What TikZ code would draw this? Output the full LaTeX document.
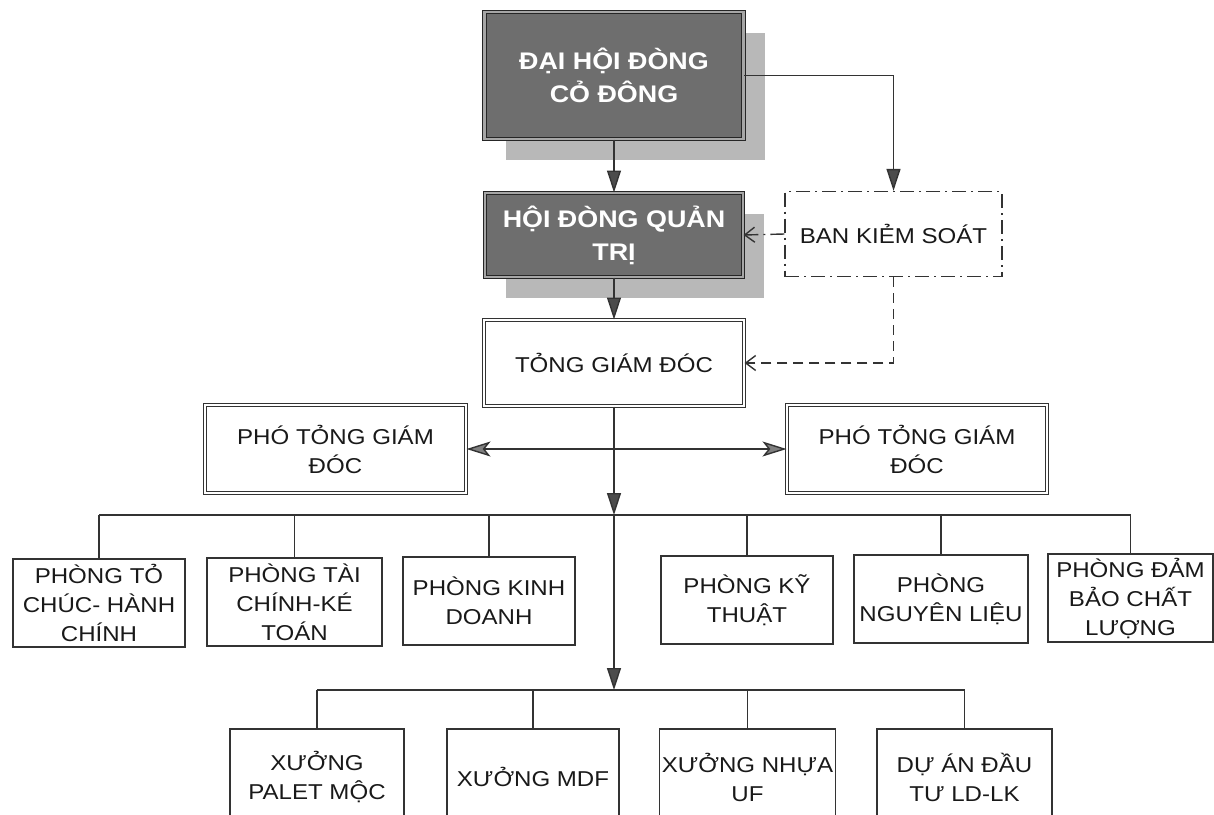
\documentclass[tikz,border=0pt]{standalone}
\usepackage{fontspec}
\newfontfamily\orgfont[FakeStretch=1.12]{Liberation Sans}
\usetikzlibrary{arrows.meta,shadows}
\tikzset{
  unit/.style={rectangle, draw=black!80, line width=1.3pt, align=center, inner sep=2pt,
               text=black!90, font=\orgfont\fontsize{21.5}{29}\selectfont},
  board/.style={unit, line width=1pt, double=white, double distance=2.6pt},
  organ/.style={rectangle, draw=black!85, line width=1pt, double=black!35, double distance=2.6pt,
                fill=black!57, align=center, text=white,
                font=\orgfont\bfseries\fontsize{24}{33}\selectfont,
                drop shadow={shadow xshift=21pt, shadow yshift=-21pt, fill=black!28, opacity=1}},
  audit/.style={unit, dash pattern=on 14pt off 5pt on 2pt off 5pt},
  link/.style={draw=black!80, line width=1.4pt},
  flow/.style={link, -{Triangle[length=22pt, width=14pt, fill=black!70]}},
  side/.style={link, {Stealth[length=24pt, width=15pt, inset=6pt, fill=black!50]}-{Stealth[length=24pt, width=15pt, inset=6pt, fill=black!50]}},
  watch/.style={link, -{Straight Barb[length=10pt, width=15pt]}},
}
\begin{document}
\begin{tikzpicture}[x=1pt, y=-1pt]
\useasboundingbox (0,0) rectangle (1214,814);
\clip (0,0) rectangle (1214,814);

\node[organ, minimum width=259pt, minimum height=127pt] (dhdcd) at (614,75.5) {ĐẠI HỘI ĐÒNG\\CỎ ĐÔNG};
\node[organ, minimum width=258pt, minimum height=84pt] (hdqt) at (614,235) {HỘI ĐÒNG QUẢN\\TRỊ};
\node[audit, minimum width=217pt, minimum height=85pt] (bks) at (893.5,234) {BAN KIẺM SOÁT};
\node[board, minimum width=260pt, minimum height=86pt] (tgd) at (614,363) {TỎNG GIÁM ĐÓC};
\node[board, minimum width=261pt, minimum height=88pt] (phoL) at (335.5,449) {PHÓ TỎNG GIÁM\\ĐÓC};
\node[board, minimum width=260pt, minimum height=88pt] (phoR) at (917,449) {PHÓ TỎNG GIÁM\\ĐÓC};

\node[unit, minimum width=172pt, minimum height=88pt] (b1) at (99,603) {PHÒNG TỎ\\CHÚC- HÀNH\\CHÍNH};
\node[unit, minimum width=175pt, minimum height=88pt] (b2) at (294.5,602) {PHÒNG TÀI\\CHÍNH-KÉ\\TOÁN};
\node[unit, minimum width=172pt, minimum height=88pt] (b3) at (489,601) {PHÒNG KINH\\DOANH};
\node[unit, minimum width=172pt, minimum height=88pt] (b4) at (747,600) {PHÒNG KỸ\\THUẬT};
\node[unit, minimum width=174pt, minimum height=88pt] (b5) at (941,599) {PHÒNG\\NGUYÊN LIỆU};
\node[unit, minimum width=165pt, minimum height=88pt] (b6) at (1130.5,598) {PHÒNG ĐẢM\\BẢO CHẤT\\LƯỢNG};

\node[unit, minimum width=174pt, minimum height=96pt] (c1) at (317,777) {XƯỞNG\\PALET MỘC};
\node[unit, minimum width=172pt, minimum height=96pt] (c2) at (533,777) {XƯỞNG MDF};
\node[unit, minimum width=171pt, minimum height=96pt] (c3) at (747.5,777) {XƯỞNG NHỰA\\UF};
\node[unit, minimum width=175pt, minimum height=96pt] (c4) at (964.5,777) {DỰ ÁN ĐẦU\\TƯ LD-LK};

\coordinate (j1) at (614,515);
\coordinate (j2) at (614,690);

\draw[flow] (dhdcd) -- (hdqt);
\draw[flow] (dhdcd.east) -| (bks.north);
\draw[flow] (hdqt) -- (tgd);
\draw[watch, dash pattern=on 14pt off 5pt on 2pt off 5pt] (bks.west) -- (hdqt.east);
\draw[watch, dash pattern=on 10pt off 6pt] (bks.south) |- (tgd.east);
\draw[side] (phoL.east) -- (phoR.west);
\draw[flow] (tgd.south) -- (j1);
\draw[flow] (j1) -- (j2);

\draw[link] (b1.north |- j1) -- (b6.north |- j1);
\foreach \b in {b1,b2,b3,b4,b5,b6}
  \draw[link] (\b.north |- j1) -- (\b.north);
\draw[link] (c1.north |- j2) -- (c4.north |- j2);
\foreach \c in {c1,c2,c3,c4}
  \draw[link] (\c.north |- j2) -- (\c.north);
\end{tikzpicture}
\end{document}
